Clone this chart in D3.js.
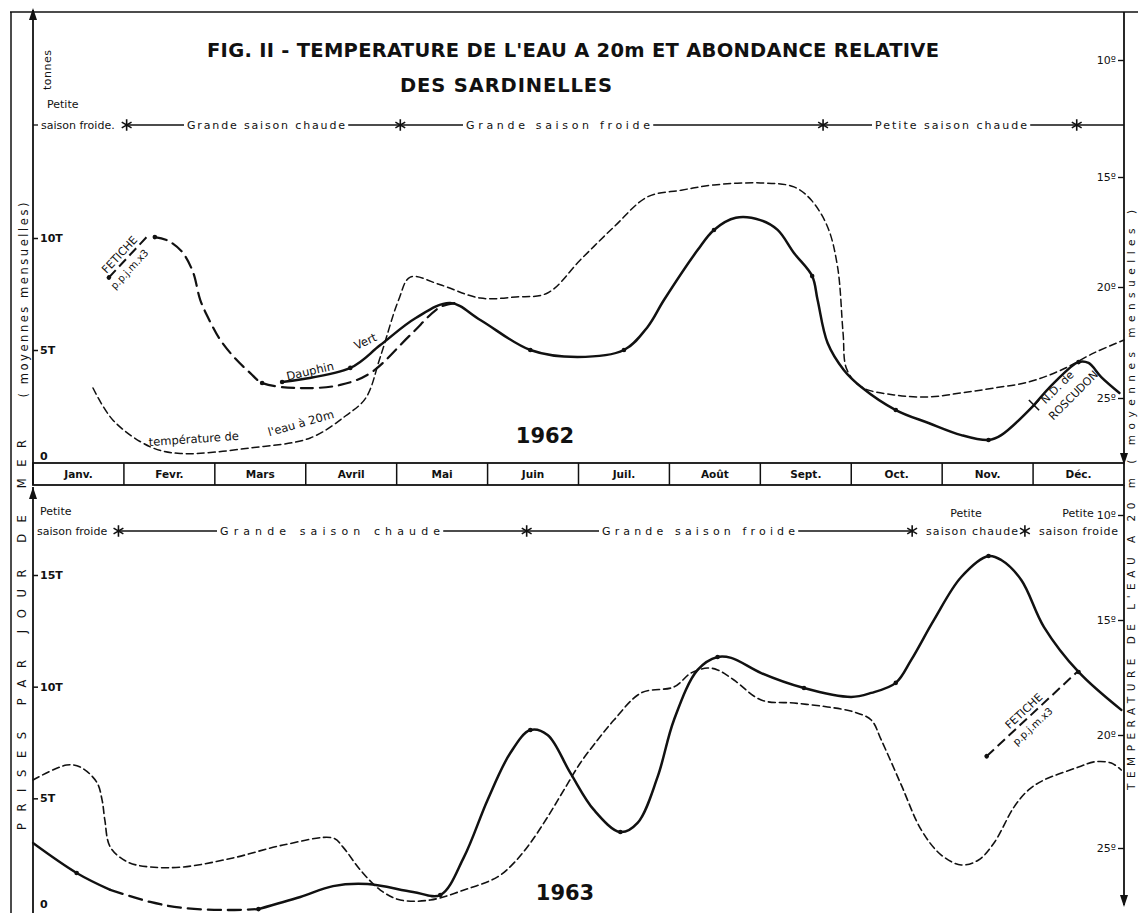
<!DOCTYPE html>
<html>
<head>
<meta charset="utf-8">
<script src="https://cdn.jsdelivr.net/npm/d3@7"></script>
<style>
  body { margin: 0; background: #fff; }
  text { font-family: "DejaVu Sans", sans-serif; fill: #111; }
</style>
</head>
<body>
<svg id="fig" width="1138" height="913"></svg>
<script>
// ---- data (month position 0..12, value) ----
var months = ["Janv.", "Fevr.", "Mars", "Avril", "Mai", "Juin", "Juil.", "Août", "Sept.", "Oct.", "Nov.", "Déc."];
var catchTicks62 = [0, 5, 10];
var catchTicks63 = [0, 5, 10, 15];
var tempTicks = [10, 15, 20, 25];

// 1962 - temperature at 20 m (deg C)
var temp62 = [[0.66,24.55],[0.88,26.0],[1.29,27.2],[1.62,27.5],[2.39,27.25],[3.05,26.8],[3.44,25.8],[3.66,25.0],
  [3.82,23.15],[4.02,20.6],[4.15,19.55],[4.48,19.9],[4.92,20.5],[5.31,20.45],[5.66,20.27],[6.02,18.77],
  [6.39,17.27],[6.76,15.9],[7.13,15.6],[7.49,15.36],[8.0,15.27],[8.37,15.45],[8.56,16.05],[8.74,17.27],
  [8.85,19.1],[8.91,22.07],[8.95,23.7],[9.11,24.5],[9.47,24.86],[9.85,24.95],[10.21,24.77],[10.57,24.55],
  [10.95,24.28],[11.31,23.74],[11.67,22.97],[12,22.39]];
// 1962 - catches (tonnes per sea day), third item = monthly point marked
var fetiche62 = [[1.34,10.04,1],[1.49,9.87],[1.64,9.38],[1.76,8.48],[1.84,7.23],[1.95,6.25],[2.06,5.45],
  [2.22,4.64],[2.39,3.97],[2.52,3.53,1],[2.94,3.3],[3.38,3.44],[3.71,3.97],[4.15,5.67],[4.48,6.92],[4.65,7.1]];
var dauphin62 = [[2.74,3.57,1],[3.49,4.2,1],[3.82,5.22],[4.21,6.43],[4.59,7.1],[4.92,6.34],[5.47,5.0,1],
  [5.99,4.69],[6.5,5.0,1],[6.76,6.03],[6.94,7.23],[7.31,9.46],[7.49,10.36,1],[7.73,10.9],[8.0,10.8],
  [8.19,10.36],[8.37,9.33],[8.57,8.3,1],[8.63,7.23],[8.74,5.31],[8.92,4.1],[9.11,3.35],[9.49,2.32,1],
  [9.85,1.74],[10.21,1.2],[10.51,0.98,1],[10.65,1.2],[11.01,2.54]];
var roscudon62 = [[11.01,2.54],[11.23,3.53],[11.5,4.46,1],[11.61,4.42],[11.75,3.79],[11.95,3.08]];

// 1963
var temp63 = [[0,21.99],[0.37,21.33],[0.52,21.42],[0.7,22.08],[0.76,22.88],[0.79,23.76],[0.85,24.96],
  [1.04,25.62],[1.29,25.84],[1.65,25.84],[2.2,25.44],[2.75,24.87],[3.3,24.56],[3.41,24.96],[3.6,25.97],
  [3.82,26.86],[4.04,27.3],[4.37,27.3],[4.74,26.86],[5.11,26.28],[5.29,25.66],[5.47,24.78],[5.66,23.63],
  [5.84,22.43],[6.02,21.24],[6.21,20.22],[6.39,19.35],[6.69,18.17],[7.05,17.91],[7.24,17.3],[7.42,17.09],
  [7.53,17.17],[7.71,17.61],[8.01,18.48],[8.37,18.61],[8.74,18.78],[9.03,19.0],[9.22,19.35],[9.33,20.22],
  [9.55,22.21],[9.77,24.2],[9.99,25.31],[10.21,25.75],[10.4,25.53],[10.57,24.78],[10.79,23.19],
  [10.95,22.43],[11.12,21.99],[11.5,21.42],[11.67,21.19],[11.86,21.24],[11.97,21.55]];
var catch63a = [[0,3.0],[0.48,1.66,1],[0.85,0.9]];
var catch63b = [[0.85,0.9],[1.29,0.36],[1.65,0.09],[2.14,0.0],[2.48,0.04,1]];
var catch63 = [[2.48,0.04],[2.94,0.58],[3.3,1.07],[3.68,1.16],[4.18,0.81],[4.48,0.67,1],[4.74,2.37],
  [5.0,4.93],[5.25,7.03],[5.47,8.06,1],[5.66,7.84],[5.91,6.14],[6.17,4.48],[6.46,3.49,1],[6.65,3.9],
  [6.87,5.96],[7.05,8.51],[7.31,10.75],[7.53,11.33,1],[7.68,11.29],[8.01,10.61],[8.48,9.94,1],[9.0,9.54],
  [9.22,9.72],[9.49,10.17,1],[9.66,11.2],[9.91,12.99],[10.21,14.91],[10.51,15.85,1],[10.65,15.67],
  [10.87,14.78],[11.12,12.67],[11.5,10.66,1],[11.97,8.96]];

// seasons
var seasonBreaks62 = [1.03, 4.04, 8.69, 11.48];
var seasonBreaks63 = [0.94, 5.43, 9.67, 10.91];

// ---- scales ----
var svg = d3.select("#fig");
var x = d3.scaleLinear().domain([0, 12]).range([33, 1124]);
var yC62 = d3.scaleLinear().domain([0, 10]).range([462, 238]);
var yT62 = d3.scaleLinear().domain([10, 15, 20, 25]).range([60, 177, 287, 398]);
var yC63 = d3.scaleLinear().domain([0, 15]).range([910, 575]);
var yT63 = d3.scaleLinear().domain([10, 15, 20, 25]).range([515, 620, 735, 848]);

// frame
svg.append("line").attr("x1", 10).attr("y1", 12).attr("x2", 1138).attr("y2", 12).attr("stroke", "#111").attr("stroke-width", 1.5);
svg.append("line").attr("x1", 11).attr("y1", 12).attr("x2", 11).attr("y2", 913).attr("stroke", "#111").attr("stroke-width", 1.5);

// title
svg.append("text").attr("x", 207).attr("y", 57).attr("textLength", 732).attr("lengthAdjust", "spacing")
  .style("font-size", "19.5px").style("font-weight", "bold")
  .text("FIG. II - TEMPERATURE DE L'EAU A 20m ET ABONDANCE RELATIVE");
svg.append("text").attr("x", 400).attr("y", 92).attr("textLength", 212).attr("lengthAdjust", "spacing")
  .style("font-size", "19.5px").style("font-weight", "bold")
  .text("DES SARDINELLES");

// month band
svg.append("rect").attr("x", x(0)).attr("y", 463).attr("width", x(12) - x(0)).attr("height", 22)
  .attr("fill", "none").attr("stroke", "#111").attr("stroke-width", 1.8);
svg.selectAll(".mdiv").data(d3.range(1, 12)).enter().append("line")
  .attr("x1", d => x(d)).attr("x2", d => x(d)).attr("y1", 463).attr("y2", 485)
  .attr("stroke", "#111").attr("stroke-width", 1.5);
svg.selectAll(".mlab").data(months).enter().append("text")
  .attr("x", (d, i) => x(i + 0.5)).attr("y", 478).attr("text-anchor", "middle")
  .style("font-size", "10.5px").style("font-weight", "bold").text(d => d);

// arrow helper
function arrow(cx, cy, dir) {
  var s = dir; // -1 up, 1 down
  svg.append("path").attr("d", "M" + (cx - 4) + "," + (cy - s * 12) + "L" + cx + "," + cy + "L" + (cx + 4) + "," + (cy - s * 12) + "Z")
    .attr("fill", "#111");
}

// left axes
svg.append("line").attr("x1", 33).attr("x2", 33).attr("y1", 10).attr("y2", 485).attr("stroke", "#111").attr("stroke-width", 1.8);
svg.append("line").attr("x1", 33).attr("x2", 33).attr("y1", 487).attr("y2", 913).attr("stroke", "#111").attr("stroke-width", 1.8);
arrow(33, 8, -1);
arrow(33, 487, -1);
// right axes
svg.append("line").attr("x1", 1124).attr("x2", 1124).attr("y1", 12).attr("y2", 463).attr("stroke", "#111").attr("stroke-width", 1.8);
svg.append("line").attr("x1", 1124).attr("x2", 1124).attr("y1", 485).attr("y2", 905).attr("stroke", "#111").attr("stroke-width", 1.8);
arrow(1124, 465, 1);
arrow(1124, 907, 1);

function catchAxis(scale, ticks) {
  var g = svg.append("g").attr("transform", "translate(33,0)")
    .call(d3.axisRight(scale).tickValues(ticks).tickSize(5).tickPadding(2)
      .tickFormat(d => d === 0 ? "0" : d + "T"));
  g.select(".domain").remove();
  g.selectAll("line").attr("stroke", "#111").attr("stroke-width", 1.5);
  g.selectAll("text").style("font-size", "11px").style("font-weight", "bold").attr("fill", "#111");
  g.selectAll(".tick").filter(d => d === 0).select("line").remove();
  g.selectAll(".tick").filter(d => d === 0).select("text").attr("dy", "-0.2em").attr("x", 7);
}
catchAxis(yC62, catchTicks62);
catchAxis(yC63, catchTicks63);

function tempAxis(scale) {
  var g = svg.append("g").attr("transform", "translate(1124,0)")
    .call(d3.axisLeft(scale).tickValues(tempTicks).tickSize(6).tickPadding(2).tickFormat(d => d + "º"));
  g.select(".domain").remove();
  g.selectAll("line").attr("stroke", "#111").attr("stroke-width", 1.4);
  g.selectAll("text").style("font-size", "11px").attr("fill", "#111");
}
tempAxis(yT62);
tempAxis(yT63);

// curves
function curve(data, yScale, width, dash) {
  var line = d3.line().x(d => x(d[0])).y(d => yScale(d[1])).curve(d3.curveCatmullRom.alpha(0.5));
  svg.append("path").datum(data).attr("d", line).attr("fill", "none").attr("stroke", "#111")
    .attr("stroke-width", width).attr("stroke-dasharray", dash).attr("stroke-linecap", "round");
  svg.selectAll(null).data(data.filter(d => d[2])).enter().append("circle")
    .attr("cx", d => x(d[0])).attr("cy", d => yScale(d[1])).attr("r", 2.3).attr("fill", "#111");
}
curve(temp62, yT62, 1.5, "7,4");
curve(fetiche62, yC62, 2.2, "12,7");
curve(dauphin62, yC62, 2.5, null);
curve(roscudon62, yC62, 2.5, null);
curve(temp63, yT63, 1.6, "7,4");
curve(catch63a, yC63, 2.3, null);
curve(catch63b, yC63, 2.3, "13,7");
curve(catch63, yC63, 2.5, null);

// X mark between Dauphin Vert and N.D. de Roscudon
svg.append("path").attr("d", d3.symbol(d3.symbolTimes, 70)())
  .attr("transform", "translate(" + x(roscudon62[0][0]) + "," + yC62(roscudon62[0][1]) + ")")
  .attr("stroke", "#111").attr("stroke-width", 1.6).attr("fill", "none");

// season lines
function star(m, yy) {
  svg.append("path").attr("d", d3.symbol(d3.symbolAsterisk, 90)())
    .attr("transform", "translate(" + x(m) + "," + yy + ")")
    .attr("stroke", "#111").attr("stroke-width", 1.6).attr("fill", "none");
}
function label(t, xx, yy, len, anchor) {
  var s = svg.append("text").attr("x", xx).attr("y", yy).text(t)
    .style("font-size", "11px").attr("text-anchor", anchor || "start");
  if (len) s.attr("textLength", len).attr("lengthAdjust", "spacing");
  var b = s.node().getBBox();
  svg.insert("rect", () => s.node()).attr("x", b.x - 3).attr("y", b.y).attr("width", b.width + 6)
    .attr("height", b.height).attr("fill", "#fff");
  return s;
}
// 1962
svg.append("line").attr("x1", x(seasonBreaks62[0])).attr("x2", 1124).attr("y1", 125).attr("y2", 125)
  .attr("stroke", "#111").attr("stroke-width", 1.3);
svg.append("line").attr("x1", 33).attr("x2", 38).attr("y1", 125).attr("y2", 125).attr("stroke", "#111").attr("stroke-width", 1.3);
label("Petite", 47, 108);
label("saison froide.", 41, 129);
label("Grande saison chaude", 187, 129, 158);
label("Grande saison froide", 466, 129, 184);
label("Petite saison chaude", 875, 129, 152);
seasonBreaks62.forEach(m => star(m, 125));
// 1963
svg.append("line").attr("x1", x(seasonBreaks63[0])).attr("x2", x(seasonBreaks63[2])).attr("y1", 531).attr("y2", 531)
  .attr("stroke", "#111").attr("stroke-width", 1.3);
label("Petite", 40, 515);
label("saison froide", 37, 535);
label("Grande saison chaude", 220, 535, 220);
label("Grande saison froide", 602, 535, 193);
label("Petite", 966, 517, null, "middle");
label("saison chaude", 926, 535, 92);
label("Petite", 1078, 517, null, "middle");
label("saison froide", 1039, 535, 79);
seasonBreaks63.forEach(m => star(m, 531));

// year labels
svg.append("text").attr("x", 545).attr("y", 443).attr("text-anchor", "middle")
  .style("font-size", "21px").style("font-weight", "bold").text("1962");
svg.append("text").attr("x", 565).attr("y", 900).attr("text-anchor", "middle")
  .style("font-size", "21px").style("font-weight", "bold").text("1963");

// curve annotations
function rotText(t, cx, cy, ang, size, bold) {
  svg.append("text").attr("transform", "translate(" + cx + "," + cy + ") rotate(" + ang + ")")
    .attr("text-anchor", "middle").style("font-size", (size || 11) + "px")
    .style("font-weight", bold ? "bold" : "normal").text(t);
}
rotText("Dauphin", 311, 375, -13, 11.5);
rotText("Vert", 367, 345, -25, 11.5);
rotText("température de", 194, 443, -4, 11.5);
rotText("l'eau à 20m", 302, 427, -16, 11.5);
rotText("N.D. de", 1060, 390, -45, 11);
rotText("ROSCUDON", 1076, 398, -45, 11);

// FETICHE legends
function fetiche(cx, cy, ang, len) {
  var g = svg.append("g").attr("transform", "translate(" + cx + "," + cy + ") rotate(" + ang + ")");
  g.append("line").attr("x1", -len / 2).attr("x2", len / 2).attr("y1", 0).attr("y2", 0)
    .attr("stroke", "#111").attr("stroke-width", 2).attr("stroke-dasharray", "10,5");
  g.append("circle").attr("cx", -len / 2).attr("cy", 0).attr("r", 2.3).attr("fill", "#111");
  g.append("text").attr("x", -4).attr("y", -4).attr("text-anchor", "middle").style("font-size", "11px").text("FETICHE");
  g.append("text").attr("x", -8).attr("y", 13).attr("text-anchor", "middle").style("font-size", "10px").text("p.p.j.m.x3");
}
fetiche(128, 257, -47, 56);
fetiche(1032, 714, -43, 124);

// side labels
function vText(t, cx, cy, len, size) {
  svg.append("text").attr("transform", "translate(" + cx + "," + cy + ") rotate(-90)")
    .attr("text-anchor", "middle").attr("dy", "0.35em").attr("textLength", len).attr("lengthAdjust", "spacing")
    .style("font-size", (size || 11) + "px").text(t);
}
vText("PRISES   PAR   JOUR   DE   MER", 22, 635, 390, 11.5);
vText("( moyennes   mensuelles)", 24, 300, 195, 11.5);
vText("tonnes", 47, 70, 40, 11);
vText("TEMPERATURE   DE   L'EAU   A   20 m   ( moyennes   mensuelles )", 1131, 500, 580, 10.5);
</script>
</body>
</html>
